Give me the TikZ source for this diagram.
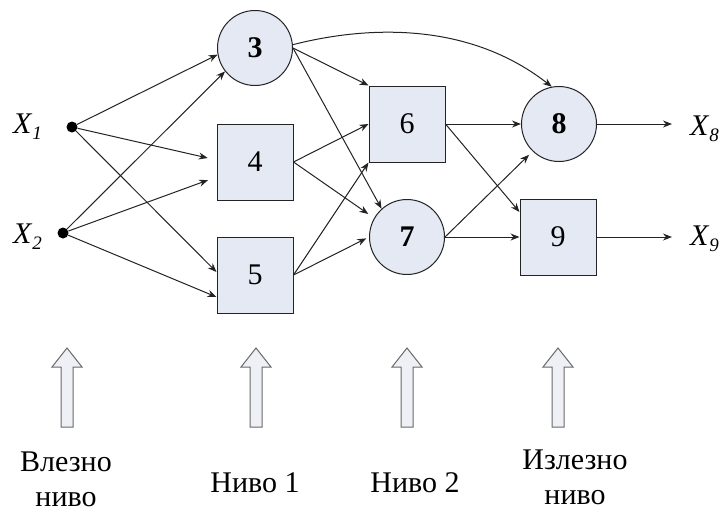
\documentclass[tikz,border=0pt]{standalone}
\usepackage{fontspec}
\setmainfont{Liberation Serif}
\usetikzlibrary{arrows.meta,calc}
\definecolor{nodefill}{RGB}{228,233,243}
\definecolor{linecol}{RGB}{35,35,35}
\definecolor{blockfill}{RGB}{238,240,246}
\definecolor{blockline}{RGB}{105,105,105}
\begin{document}
\begin{tikzpicture}[x=1pt,y=-1pt,
  every node/.style={font=\fontsize{30}{40}\selectfont},
  neuron/.style={circle,draw=linecol,fill=nodefill,line width=1pt,minimum size=75pt,inner sep=0pt},
  unit/.style={rectangle,draw=linecol,fill=nodefill,line width=1pt,minimum size=76pt,inner sep=0pt},
  dot/.style={circle,fill=black,minimum size=11pt,inner sep=0pt},
  conn/.style={draw=linecol,line width=1pt,-{Stealth[length=9pt,width=7pt]}},
  lbl/.style={inner sep=0pt,font=\fontsize{30}{35}\selectfont,align=center},
  xlbl/.style={inner sep=0pt,anchor=base west},
  blockarrow/.pic={\draw[draw=blockline,fill=blockfill,line width=1pt,line join=miter]
      (0,0) -- (15,19) -- (6,19) -- (6,79) -- (-6,79) -- (-6,19) -- (-15,19) -- cycle;}
]
\useasboundingbox (0,0) rectangle (724,512);

% input points
\node[dot] (x1) at (72,127) {};
\node[dot] (x2) at (63,233) {};
\node[xlbl] (lx1) at (13,133) {\textit{X}\raisebox{-0.22em}{\fontsize{19}{19}\selectfont\itshape 1}};
\node[xlbl] (lx2) at (13,243) {\textit{X}\raisebox{-0.22em}{\fontsize{19}{19}\selectfont\itshape 2}};

% units
\node[neuron] (n3) at (255,48) {\textbf{3}};
\node[unit]   (n4) at (255,162) {4};
\node[unit]   (n5) at (255,275) {5};
\node[unit]   (n6) at (407,124) {6};
\node[neuron] (n7) at (407,237) {\textbf{7}};
\node[neuron] (n8) at (559,124) {\textbf{8}};
\node[unit]   (n9) at (558,237) {9};

% outputs
\coordinate (o8) at (672,124);
\coordinate (o9) at (672,237);
\node[xlbl] (lx8) at (690,135) {\textit{X}\raisebox{-0.22em}{\fontsize{19}{19}\selectfont\itshape 8}};
\node[xlbl] (lx9) at (690,245) {\textit{X}\raisebox{-0.22em}{\fontsize{19}{19}\selectfont\itshape 9}};

% connectors: input level -> level 1
\draw[conn] (x1) -- (n3.190);
\draw[conn] (x2) -- (n3.218);
\draw[conn,shorten >=9pt] (x1) -- ([yshift=2pt]n4.west);
\draw[conn,shorten >=9pt] (x2) -- ([yshift=-15pt]n4.west);
\draw[conn] (x1) -- ([yshift=3pt]n5.west);
\draw[conn] (x2) -- ([yshift=-22pt]n5.west);

% level 1 -> level 2 / output
\draw[conn] (n3.east) -- (n6.north west);
\draw[conn] (n3.east) -- (n7.132);
\draw[conn] (n3.5) .. controls (350,30) and (460,15) .. (n8.101);
\draw[conn] (n4.east) -- (n6.west);
\draw[conn,shorten >=7pt] (n4.east) -- (n7.150);
\draw[conn] (n5.east) -- (n6.south west);
\draw[conn,shorten >=3pt] (n5.east) -- (n7.west);

% level 2 -> output level
\draw[conn] (n6.east) -- (n8.west);
\draw[conn] (n6.east) -- ([yshift=25pt]n9.west);
\draw[conn,shorten >=5pt] (n7.east) -- (n8.226);
\draw[conn] (n7.east) -- (n9.west);

% outputs
\draw[conn] (n8.east) -- (o8);
\draw[conn] (n9.east) -- (o9);

% level arrows
\pic at (67,348) {blockarrow};
\pic at (256,348) {blockarrow};
\pic at (407,348) {blockarrow};
\pic at (558,348) {blockarrow};

% level labels
\node[lbl,anchor=north] (l0) at (66,452) {Влезно\\ниво};
\node[lbl,anchor=base]  (l1) at (255,492) {Ниво 1};
\node[lbl,anchor=base]  (l2) at (415,492) {Ниво 2};
\node[lbl,anchor=north] (l3) at (575,450) {Излезно\\ниво};
\end{tikzpicture}
\end{document}
